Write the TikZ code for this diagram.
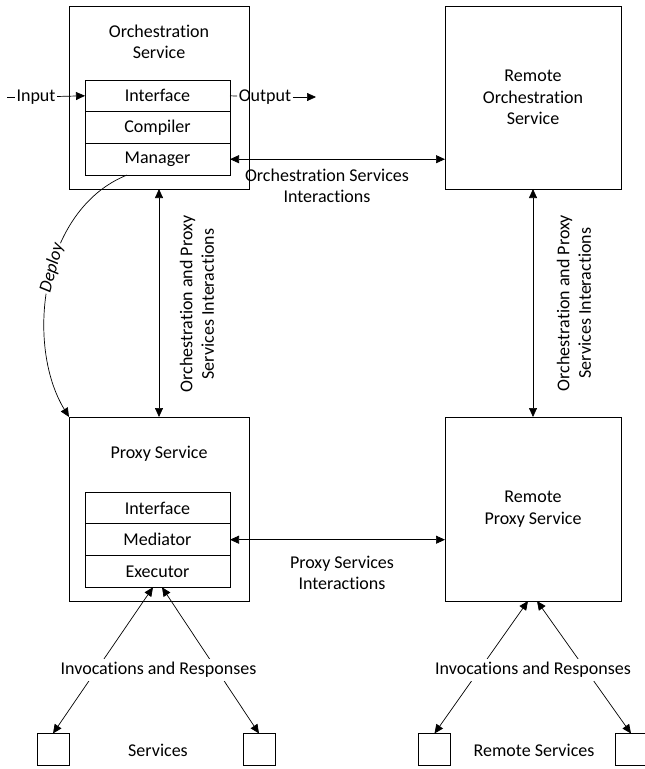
\documentclass[tikz,border=0pt]{standalone}
\usepackage{fontspec}
\setmainfont[RawFeature={-liga;-clig;-dlig}]{Carlito}
\usetikzlibrary{arrows.meta,calc}
\begin{document}
\begin{tikzpicture}[x=1pt,y=-1pt,
  every node/.style={font=\fontsize{18}{21.5}\selectfont},
  box/.style={draw, line width=0.8pt, inner sep=0pt, outer sep=0pt},
  row/.style={draw, line width=0.8pt, minimum width=145pt, minimum height=31.7pt, inner sep=0pt, outer sep=0pt},
  conn/.style={line width=0.7pt},
  arr/.style={->, >={Triangle[length=9pt,width=8pt]}},
  arrs/.style={<->, >={Triangle[length=9pt,width=8pt]}},
  lbl/.style={align=center, inner sep=1pt},
  wlbl/.style={fill=white, inner sep=3pt},
]
\useasboundingbox (0,0) rectangle (645,769);

% Orchestration service
\node[box, minimum width=180pt, minimum height=183pt] (orch) at (159,97.5) {};
\node[lbl] (orchT) at (159,42) {Orchestration\\Service};
\node[row] (oIf) at (157.5,95.8) {Interface};
\node[row] (oCo) at (157.5,127.5) {Compiler};
\node[row] (oMa) at (157.5,159.2) {Manager};

% Remote orchestration service
\node[box, minimum width=176pt, minimum height=183pt, align=center] (rorch) at (533,97.5) {Remote\\Orchestration\\Service};

% Proxy service
\node[box, minimum width=180pt, minimum height=184pt] (proxy) at (159,509) {};
\node[lbl] (proxyT) at (159,454) {Proxy Service};
\node[row] (pIf) at (157.5,508) {Interface};
\node[row] (pMe) at (157.5,539.7) {Mediator};
\node[row] (pEx) at (157.5,571.4) {Executor};

% Remote proxy service
\node[box, minimum width=176pt, minimum height=184pt, align=center] (rproxy) at (533,509) {Remote\\Proxy Service};

% Services
\node[box, minimum size=32pt] (s1) at (53,749.5) {};
\node[box, minimum size=32pt] (s2) at (259,749.5) {};
\node[box, minimum size=32pt] (rs1) at (434.5,749.5) {};
\node[box, minimum size=32pt] (rs2) at (631,749.5) {};
\node (servT) at (158,750) {Services};
\node (rservT) at (534,750) {Remote Services};

% Input / Output
\coordinate (inL) at (7,97);
\node[inner sep=1.5pt] (inT) at (36,97) {Input};
\draw[conn] (inL) -- (inT);
\draw[conn,arr] (inT) -- (oIf.west);
\node[inner sep=1.5pt] (outT) at (265,97) {Output};
\coordinate (outR) at (316,97);
\draw[conn] (oIf.east) -- (outT);
\draw[conn,arr] (outT) -- (outR);

% Orchestration services interactions
\draw[conn,arrs] (oMa.east) -- (oMa.east -| rorch.west);
\node[lbl] (oiT) at (327,186) {Orchestration Services\\Interactions};

% Orchestration and proxy interactions
\draw[conn,arrs] (orch.south) -- (proxy.north);
\node[lbl, rotate=90] (opT) at (197,304) {Orchestration and Proxy\\Services Interactions};
\draw[conn,arrs] (rorch.south) -- (rproxy.north);
\node[lbl, rotate=90] (ropT) at (574,303) {Orchestration and Proxy\\Services Interactions};

% Proxy services interactions
\draw[conn,arrs] (pMe.east) -- (pMe.east -| rproxy.west);
\node[lbl] (piT) at (342,573) {Proxy Services\\Interactions};

% Deploy
\coordinate (depS) at ($(oMa.south)+(-30.5,0)$);
\draw[conn,arr] (depS) .. controls (40,210) and (25,345) .. (proxy.north west)
  node[pos=0.45, sloped, fill=white, inner sep=1pt, font=\fontsize{18}{21.5}\selectfont\itshape] (depT) {Deploy};

% Invocations
\coordinate (exL) at ($(pEx.south)+(-4.5,0)$);
\coordinate (exR) at ($(pEx.south)+(4.5,0)$);
\draw[conn,arrs] (exL) -- (s1.north);
\draw[conn,arrs] (exR) -- (s2.north);
\node[wlbl] (invT) at (158.5,670) {Invocations and Responses};

\coordinate (rpL) at ($(rproxy.south)+(-5,0)$);
\coordinate (rpR) at ($(rproxy.south)+(4,0)$);
\draw[conn,arrs] (rpL) -- (rs1.north);
\draw[conn,arrs] (rpR) -- (rs2.north);
\node[wlbl] (rinvT) at (533,670) {Invocations and Responses};
\end{tikzpicture}
\end{document}
